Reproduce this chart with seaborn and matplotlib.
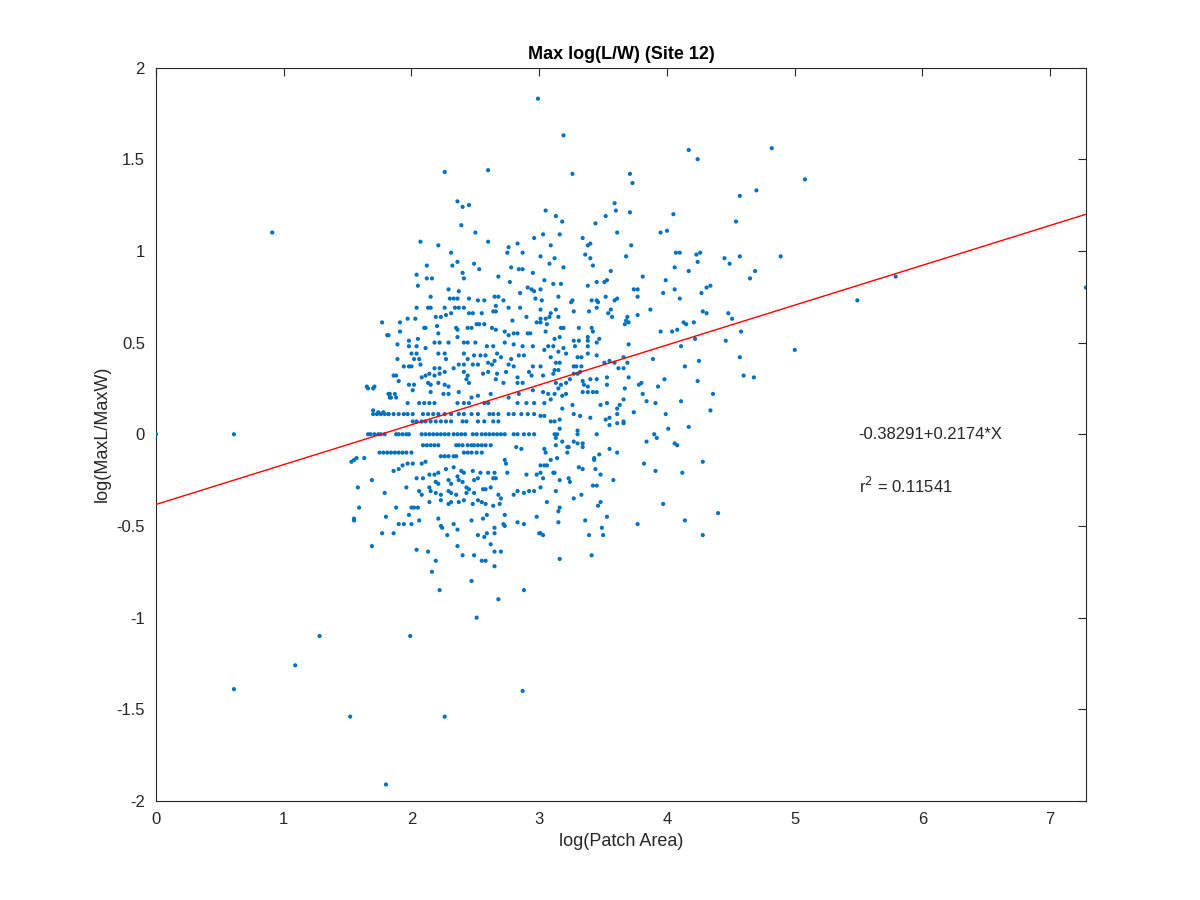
import numpy as np
import pandas as pd
import matplotlib
matplotlib.use('Agg')
import matplotlib.pyplot as plt
import seaborn as sns

# points, (log patch area, log MaxL/MaxW)
upper_left = [
    (2.36,1.27),(2.40,1.24),(2.45,1.25),(2.39,1.14),(2.50,1.10),(2.07,1.05),(2.21,1.03),(2.60,1.05),
    (2.31,0.99),(2.36,0.94),(2.32,0.92),(2.49,0.93),(2.53,0.90),(2.40,0.88),(2.41,0.85),(2.04,0.87),
    (2.12,0.92),(2.12,0.85),(2.16,0.85),(2.05,0.81),(2.68,0.86),(2.75,0.99),(2.76,1.02),(2.83,1.04),
    (2.87,0.99),(2.96,1.07),(2.78,0.91),(2.84,0.90),(2.87,0.90),(2.95,0.88),(2.77,0.83),(2.91,0.80),
    (2.94,0.79),(2.96,0.78),(2.29,0.79),(2.37,0.78),(2.15,0.75),(2.30,0.74),(2.33,0.74),(2.36,0.74),
    (2.45,0.74),(2.52,0.73),(2.57,0.73),(2.65,0.75),(2.68,0.75),(2.72,0.73),(2.85,0.77),(2.97,0.74),
    (2.04,0.69),(2.13,0.69),(2.15,0.69),(2.26,0.69),(2.34,0.69),(2.37,0.69),(2.41,0.69),(2.66,0.70),
    (2.76,0.69),(2.85,0.69),(1.77,0.61),(1.91,0.61),(1.97,0.63),(2.03,0.63),(2.19,0.64),(2.23,0.64),
    (2.27,0.65),(2.31,0.66),(2.45,0.66),(2.48,0.66),(2.55,0.66),(2.64,0.67),(2.66,0.67),(2.79,0.62),
    (2.90,0.64),(2.98,0.61),(1.81,0.54),(1.82,0.54),(1.91,0.56),(2.10,0.58),(2.11,0.58),(2.20,0.59),
    (2.35,0.58),(2.36,0.57),(2.44,0.58),(2.47,0.58),(2.51,0.60),(2.53,0.60),(2.57,0.60),(2.63,0.58),
    (2.66,0.57),(2.73,0.56),(2.76,0.54),(2.80,0.55),(2.83,0.55),(2.91,0.55),(2.93,0.55),(1.98,0.51),
    (2.05,0.52),(2.21,0.55),(2.36,0.53),(1.89,0.49),(1.98,0.48),(2.04,0.48),(2.18,0.50),(2.22,0.50),
    (2.29,0.50),(2.41,0.50),(2.44,0.50),(2.50,0.50),(2.59,0.48),(2.64,0.48),(2.73,0.50),(2.80,0.49),
    (2.87,0.48),(2.95,0.48),(2.11,0.47),(2.00,0.44),(2.04,0.44),(2.21,0.44),(2.26,0.44),(2.41,0.44),
    (2.49,0.43),(2.54,0.43),(2.58,0.43),(2.67,0.44),(2.70,0.42),(2.84,0.43),(2.88,0.43),(1.89,0.41),
    (2.02,0.41),(2.06,0.41),(2.27,0.41),(2.44,0.41),(2.65,0.40),(2.78,0.41),(1.94,0.37),(1.98,0.37),
    (2.00,0.37),(2.07,0.38),(2.18,0.36),(2.22,0.36),(2.33,0.36),(2.37,0.38),(2.41,0.38),(2.48,0.38),
    (2.52,0.38),(2.60,0.39),(2.63,0.38),(2.76,0.38),(2.80,0.37),(2.95,0.37),(1.86,0.32),(1.88,0.32),
    (2.08,0.31),(2.11,0.32),(2.14,0.33),(2.18,0.32),(2.22,0.33),(2.26,0.34),(2.41,0.34),(2.44,0.32),
    (2.56,0.33),(2.60,0.34),(2.67,0.33),(2.74,0.34),(2.83,0.31),(2.92,0.34),(2.94,0.32),(1.90,0.29),
    (1.98,0.27),(2.02,0.27),(2.13,0.28),(2.15,0.27),(2.21,0.28),(2.26,0.27),(2.29,0.26),(2.43,0.30),
    (2.45,0.28),(2.66,0.30),(2.72,0.28),(2.83,0.28),(2.87,0.28),(1.65,0.26),(1.71,0.26),(1.83,0.22),
    (1.87,0.22),(2.01,0.24),(2.15,0.23),(2.25,0.22),(2.29,0.22),(2.37,0.23),(2.47,0.20),(2.52,0.21),
    (2.62,0.22),(2.76,0.20),(2.84,0.22),(2.95,0.24),(1.84,0.20),(1.88,0.20),
    (1.66,0.25),(1.70,0.25),(1.82,0.22),(1.83,0.20),(1.70,0.13),(1.74,0.12),(1.78,0.12),(1.82,0.11),
]

# horizontal strands near zero
strand_x_017 = [1.97,2.06,2.10,2.14,2.18,2.36,2.41,2.45,2.57,2.60,2.83,2.90,2.96]
strand_x_011 = [1.70,1.73,1.76,1.79,1.82,1.86,1.90,1.94,1.97,2.01,2.09,2.13,2.17,2.21,2.26,2.31,
                2.37,2.41,2.47,2.52,2.61,2.64,2.68,2.76,2.80,2.86,2.91,2.96]
strand_x_007 = [2.01,2.04,2.08,2.11,2.15,2.19,2.23,2.27,2.31,2.40,2.43,2.52,2.57,2.64,2.68]
strand_x_000 = [1.66,1.68,1.71,1.74,1.76,1.79,1.88,1.90,1.93,1.96,1.98,2.08,2.11,2.14,2.17,2.20,
                2.23,2.26,2.29,2.33,2.36,2.39,2.42,2.48,2.51,2.55,2.58,2.61,2.64,2.67,2.70,2.73,
                2.80,2.83,2.88,2.92,2.96,3.12,3.14,3.30,3.45,3.90]
strand_x_m006 = [2.09,2.12,2.15,2.18,2.21,2.35,2.37,2.40,2.44,2.47,2.49,2.52,2.55,2.58,2.62]
strand_x_m010 = [1.75,1.78,1.81,1.84,1.87,1.90,1.93,1.96,2.00,2.41,2.44,2.47,2.51,2.55]
strand_x_m012 = [2.23,2.26,2.29,2.33,2.35]

lower_left = [
    (1.53,-0.15),(1.55,-0.14),(1.63,-0.13),(1.57,-0.13),(1.86,-0.20),(1.90,-0.19),(1.93,-0.17),(1.97,-0.16),
    (2.01,-0.16),(2.08,-0.16),(2.11,-0.15),(2.21,-0.21),(2.27,-0.19),(2.33,-0.18),(2.39,-0.20),(2.41,-0.21),
    (2.48,-0.20),(2.54,-0.21),(2.60,-0.21),(2.65,-0.21),(2.73,-0.14),(2.74,-0.16),(2.75,-0.21),(2.82,-0.07),
    (2.86,-0.08),(2.90,-0.22),(2.98,-0.22),(1.69,-0.25),(1.58,-0.29),(1.79,-0.32),(1.96,-0.29),(2.04,-0.24),
    (2.09,-0.24),(2.14,-0.22),(2.18,-0.22),(2.14,-0.29),(2.15,-0.31),(2.19,-0.26),(2.21,-0.27),(2.29,-0.25),
    (2.31,-0.27),(2.36,-0.23),(2.37,-0.25),(2.40,-0.26),(2.43,-0.29),(2.45,-0.30),(2.49,-0.25),(2.52,-0.24),
    (2.64,-0.24),(2.66,-0.24),(2.06,-0.31),(2.08,-0.33),(2.19,-0.32),(2.23,-0.33),(2.29,-0.31),(2.31,-0.32),
    (2.35,-0.33),(2.43,-0.32),(2.49,-0.32),(2.56,-0.30),(2.58,-0.30),(2.62,-0.29),(2.68,-0.33),(2.70,-0.35),
    (2.80,-0.33),(2.83,-0.31),(2.88,-0.32),(2.92,-0.31),(2.96,-0.31),(1.59,-0.40),(1.88,-0.40),(2.00,-0.40),
    (2.02,-0.40),(2.05,-0.40),(2.14,-0.37),(2.23,-0.36),(2.29,-0.38),(2.31,-0.37),(2.37,-0.37),(2.41,-0.36),
    (2.48,-0.38),(2.52,-0.36),(2.55,-0.37),(2.58,-0.38),(2.64,-0.39),(2.69,-0.38),(1.55,-0.46),(1.80,-0.45),
    (1.90,-0.49),(1.94,-0.49),(1.98,-0.44),(2.00,-0.49),(2.06,-0.47),(2.21,-0.46),(2.23,-0.50),(2.24,-0.51),
    (2.33,-0.49),(2.36,-0.52),(2.47,-0.47),(2.56,-0.46),(2.59,-0.44),(2.65,-0.51),(2.72,-0.49),(2.73,-0.50),
    (2.73,-0.44),(2.83,-0.48),(2.88,-0.49),(2.98,-0.45),(1.77,-0.54),(1.86,-0.54),(2.28,-0.55),(2.52,-0.55),
    (2.57,-0.56),(2.59,-0.54),(2.65,-0.54),(3.00,-0.54),(1.69,-0.61),(2.04,-0.63),(2.13,-0.64),(2.36,-0.61),
    (2.40,-0.66),(2.49,-0.66),(2.62,-0.60),(2.65,-0.64),(2.70,-0.64),(2.19,-0.69),(2.55,-0.69),(2.58,-0.69),
    (2.65,-0.72),(2.16,-0.75),(2.47,-0.80),(2.22,-0.85),(2.88,-0.85),(2.68,-0.90),
]

upper_right = [
    (3.59,1.26),(3.05,1.22),(3.52,1.19),(3.60,1.22),(3.71,1.21),(3.13,1.19),(3.18,1.16),(4.05,1.20),
    (4.54,1.16),(4.57,1.30),(3.03,1.09),(3.16,1.09),(3.44,1.15),(3.61,1.10),(3.34,1.07),(3.40,1.04),
    (3.38,1.03),(3.95,1.10),(4.00,1.11),(3.72,1.03),(3.09,1.03),(3.01,0.97),(3.12,0.96),(3.36,0.98),
    (3.40,0.96),(3.68,0.97),(4.07,0.99),(4.10,0.99),(4.23,0.98),(4.26,0.99),(4.45,0.96),(4.49,0.93),
    (4.57,0.97),(3.08,0.93),(3.19,0.91),(3.42,0.92),(4.24,0.94),(4.06,0.91),(3.56,0.89),(4.17,0.89),
    (3.04,0.84),(3.11,0.82),(3.17,0.82),(3.45,0.83),(3.38,0.81),(3.51,0.83),(3.53,0.84),(3.81,0.86),
    (3.99,0.84),(4.34,0.81),(4.31,0.80),(3.74,0.79),(3.77,0.79),(4.06,0.79),(3.97,0.77),(4.27,0.77),
    (3.01,0.79),(3.15,0.75),(3.02,0.73),(3.26,0.73),(3.25,0.72),(3.41,0.73),(3.45,0.73),(3.46,0.72),
    (3.52,0.75),(3.59,0.73),(3.61,0.74),(3.77,0.75),(4.10,0.74),(3.01,0.68),(3.13,0.68),(3.15,0.64),
    (3.27,0.67),(3.39,0.67),(3.45,0.69),(3.56,0.68),(3.54,0.66),(3.57,0.64),(3.87,0.68),(4.28,0.67),
    (4.31,0.66),(4.48,0.66),(4.51,0.63),(3.01,0.63),(3.05,0.63),(3.08,0.64),(3.09,0.66),(3.06,0.60),
    (3.01,0.61),(3.69,0.64),(3.68,0.62),(3.70,0.61),(3.67,0.60),(3.77,0.65),(4.13,0.61),(4.15,0.60),
    (4.21,0.61),(3.05,0.56),(3.17,0.58),(3.19,0.58),(3.31,0.58),(3.41,0.58),(3.42,0.56),(3.38,0.53),
    (3.12,0.52),(3.16,0.53),(3.27,0.51),(3.31,0.51),(3.47,0.52),(3.45,0.50),(3.95,0.56),(4.04,0.56),
    (4.08,0.57),(4.22,0.52),(4.46,0.51),(4.58,0.56),(3.07,0.48),(3.11,0.48),(3.19,0.47),(3.21,0.44),
    (3.28,0.48),(3.38,0.48),(3.38,0.51),(3.15,0.45),(3.04,0.46),(3.70,0.49),(4.11,0.48),(3.09,0.42),
    (3.13,0.39),(3.16,0.39),(3.30,0.42),(3.33,0.42),(3.38,0.44),(3.45,0.43),(3.29,0.37),(3.33,0.37),
    (3.27,0.37),(3.51,0.39),(3.55,0.40),(3.59,0.39),(3.69,0.39),(3.66,0.42),(3.89,0.41),(4.25,0.40),
    (4.57,0.42),(3.01,0.37),(3.12,0.35),(3.15,0.35),(3.11,0.33),(3.27,0.33),(3.30,0.33),(3.32,0.34),
    (3.03,0.32),(3.62,0.36),(3.66,0.36),(4.14,0.37),(3.45,0.30),(3.40,0.30),(3.24,0.30),(3.21,0.28),
    (3.13,0.28),(3.17,0.27),(3.34,0.29),(3.35,0.27),(3.38,0.26),(3.53,0.31),(3.53,0.27),(3.70,0.31),
    (3.80,0.28),(3.78,0.27),(3.98,0.30),(3.93,0.26),(4.24,0.29),(3.03,0.23),(3.07,0.22),(3.12,0.22),
    (3.15,0.25),(3.21,0.22),(3.18,0.21),(3.34,0.23),(3.38,0.23),(3.42,0.23),(3.45,0.23),(3.67,0.25),
    (3.81,0.22),(4.36,0.22),
]

lower_right = [
    (3.04,0.17),(3.09,0.19),(3.18,0.14),(3.26,0.16),(3.48,0.16),(3.53,0.17),(3.63,0.16),(3.66,0.19),
    (3.61,0.14),(3.01,0.10),(3.04,0.10),(3.09,0.07),(3.12,0.07),(3.16,0.08),(3.27,0.11),(3.32,0.10),
    (3.40,0.09),(3.52,0.08),(3.55,0.09),(3.61,0.11),(3.55,0.05),(3.61,0.06),(3.66,0.07),(3.66,0.06),
    (3.74,0.12),(3.84,0.18),(3.91,0.17),(3.99,0.11),(4.11,0.18),(4.34,0.13),(4.01,0.03),(4.17,0.04),
    (3.16,0.03),(3.30,0.02),(3.13,-0.02),(3.13,-0.06),(3.18,-0.04),(3.27,-0.04),(3.22,-0.07),(3.23,-0.07),
    (3.30,-0.05),(3.34,-0.05),(3.34,-0.07),(3.04,-0.08),(3.05,-0.10),(3.22,-0.10),(3.55,-0.08),(3.61,-0.10),
    (3.47,-0.11),(3.43,-0.13),(3.43,-0.14),(3.92,-0.02),(3.84,-0.04),(4.06,-0.05),(4.08,-0.06),(3.09,-0.14),
    (3.14,-0.13),(3.01,-0.17),(3.04,-0.17),(3.06,-0.17),(3.44,-0.19),(3.31,-0.18),(3.34,-0.19),(3.11,-0.21),
    (3.12,-0.21),(3.01,-0.21),(3.82,-0.16),(3.91,-0.20),(4.12,-0.21),(4.28,-0.15),(3.03,-0.24),(3.16,-0.25),
    (3.23,-0.24),(3.24,-0.26),(3.48,-0.22),(3.58,-0.25),(3.42,-0.28),(3.45,-0.28),(3.01,-0.29),(3.13,-0.31),
    (3.06,-0.37),(3.27,-0.35),(3.33,-0.33),(3.48,-0.37),(3.46,-0.39),(3.16,-0.40),(3.15,-0.42),(3.97,-0.38),
    (3.36,-0.47),(3.53,-0.45),(3.15,-0.48),(3.49,-0.51),(3.50,-0.55),(3.39,-0.55),(3.77,-0.49),(4.14,-0.47),
    (4.40,-0.43),(4.28,-0.55),(3.01,-0.54),(3.03,-0.55),(3.16,-0.68),(3.41,-0.66),
]

outliers = [
    (2.99,1.83),(3.19,1.63),(4.17,1.55),(4.24,1.50),(2.26,1.43),(2.60,1.44),(3.26,1.42),(3.71,1.42),
    (3.73,1.37),(4.82,1.56),(5.08,1.39),(4.70,1.33),(4.89,0.97),(4.69,0.89),(4.65,0.85),(5.49,0.73),
    (5.79,0.86),(5.00,0.46),(4.60,0.32),(4.68,0.31),(7.28,0.80),(0.00,0.00),(0.91,1.10),(0.61,0.00),
    (1.55,-0.47),(1.28,-1.10),(1.09,-1.26),(0.61,-1.39),(1.52,-1.54),(2.51,-1.00),(1.99,-1.10),
    (2.87,-1.40),(2.26,-1.54),(1.80,-1.91),
]

fit_intercept = -0.38291
fit_slope = 0.2174
r_squared = 0.11541
x_range = [0, 7.28]

strands = [(strand_x_017, 0.17), (strand_x_011, 0.11), (strand_x_007, 0.07), (strand_x_000, 0.0),
           (strand_x_m006, -0.06), (strand_x_m010, -0.10), (strand_x_m012, -0.12)]
pts = upper_left + lower_left + upper_right + lower_right + outliers
for xs, yv in strands:
    pts += [(x, yv) for x in xs]
df = pd.DataFrame(pts, columns=['area', 'ratio'])

sns.set_style('white')
plt.rcParams['font.family'] = ['Liberation Sans', 'DejaVu Sans']

fig = plt.figure(figsize=(12, 9), dpi=100)
ax = fig.add_axes([0.13, 0.11, 0.775, 0.815])

sns.scatterplot(data=df, x='area', y='ratio', ax=ax, s=9, color='#0072BD',
                linewidth=0, edgecolor='none', zorder=3)

fit_df = pd.DataFrame({'x': x_range})
fit_df['y'] = fit_intercept + fit_slope * fit_df['x']
sns.lineplot(data=fit_df, x='x', y='y', ax=ax, color='red', linewidth=1.0, zorder=4)

ax.text(5.5, 0, f'{fit_intercept}+{fit_slope}*X', fontsize=12, va='center', ha='left')
ax.text(5.5, -0.28, f'r$^2$ = {r_squared}', fontsize=12, va='center', ha='left')

ax.set_xlim(0, 7.28)
ax.set_ylim(-2, 2)
ax.set_xticks(range(0, 8))
ax.set_yticks(np.arange(-2, 2.01, 0.5))
ax.set_yticklabels(['-2', '-1.5', '-1', '-0.5', '0', '0.5', '1', '1.5', '2'])
ax.tick_params(direction='in', length=6, width=0.8, top=True, right=True,
               labelsize=12, colors='#262626', pad=8)
for sp in ax.spines.values():
    sp.set_color('#262626')
    sp.set_linewidth(0.8)

ax.set_xlabel('log(Patch Area)', fontsize=13, color='#262626')
ax.set_ylabel('log(MaxL/MaxW)', fontsize=13, color='#262626')
ax.set_title('Max log(L/W) (Site 12)', fontsize=13, fontweight='bold', color='black')

fig.savefig('out.png', dpi=100)
